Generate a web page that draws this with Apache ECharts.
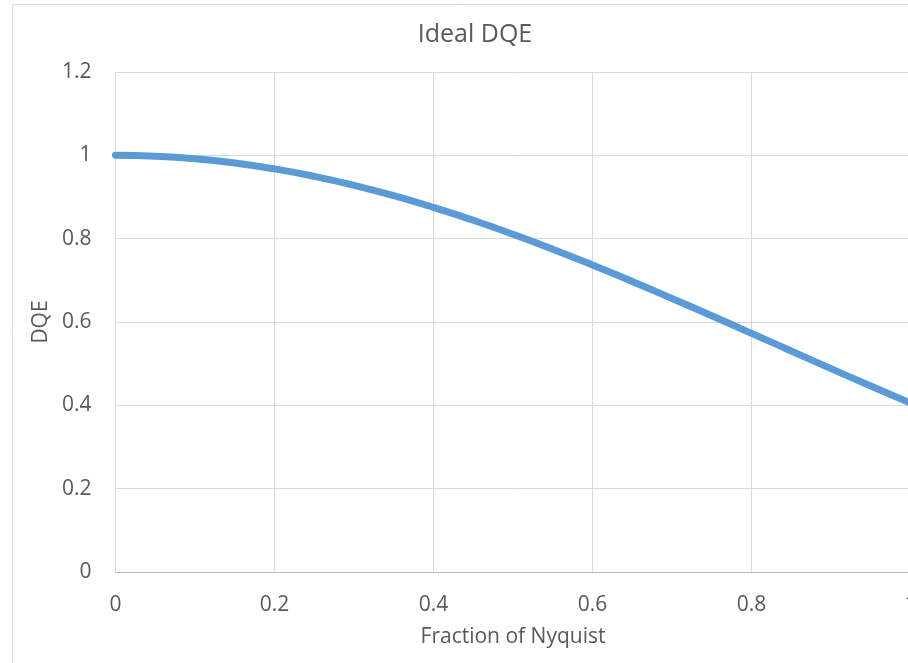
<!DOCTYPE html>
<html>
<head>
<meta charset="utf-8">
<script src="https://cdn.jsdelivr.net/npm/echarts@6/dist/echarts.min.js"></script>
<style>
  html, body { margin: 0; padding: 0; background: #fff; }
  #chart { width: 908px; height: 663px; }
</style>
</head>
<body>
<div id="chart"></div>
<script>
// Spatial frequency as a fraction of Nyquist
const fraction = [0, 0.05, 0.1, 0.15, 0.2, 0.25, 0.3, 0.35, 0.4, 0.45, 0.5,
                  0.55, 0.6, 0.65, 0.7, 0.75, 0.8, 0.85, 0.9, 0.95, 1.0];
// Ideal detective quantum efficiency at each frequency
const dqe = [1.0, 0.9979, 0.9918, 0.9816, 0.9675, 0.9496, 0.9281, 0.9032, 0.8751, 0.8442, 0.8106,
             0.7747, 0.7368, 0.6974, 0.6566, 0.6150, 0.5728, 0.5304, 0.4881, 0.4463, 0.4053];
const xTicks = [0, 0.2, 0.4, 0.6, 0.8, 1];
const yTicks = [0, 0.2, 0.4, 0.6, 0.8, 1, 1.2];

const font = '"Open Sans", "Noto Sans", sans-serif';
const chart = echarts.init(document.getElementById('chart'), null, { renderer: 'canvas' });

chart.setOption({
  animation: false,
  backgroundColor: '#ffffff',
  title: {
    text: 'Ideal DQE',
    left: 470, top: 17, textAlign: 'center',
    textStyle: { fontFamily: font, fontSize: 25, fontWeight: 'normal', color: '#595959' }
  },
  graphic: [{
    type: 'rect',
    shape: { x: 12.5, y: 4.5, width: 1000, height: 800 },
    style: { fill: 'none', stroke: '#d9d9d9', lineWidth: 1 },
    silent: true
  }],
  grid: { left: 115.5, right: -2.5, top: 72, bottom: 91, outerBoundsMode: 'none', containLabel: false },
  xAxis: {
    type: 'value',
    min: xTicks[0], max: xTicks[xTicks.length - 1], interval: 0.2,
    name: 'Fraction of Nyquist',
    nameLocation: 'middle', nameGap: 55,
    nameTextStyle: { fontFamily: font, fontSize: 21, color: '#595959' },
    axisLine: { show: true, lineStyle: { color: '#bfbfbf', width: 1 } },
    axisTick: { show: false },
    splitLine: { show: true, lineStyle: { color: '#d9d9d9', width: 1 } },
    axisLabel: { fontFamily: font, fontSize: 21, color: '#595959', margin: 23,
                 formatter: v => String(+v.toFixed(1)) }
  },
  yAxis: {
    type: 'value',
    min: yTicks[0], max: yTicks[yTicks.length - 1], interval: 0.2,
    name: 'DQE',
    nameLocation: 'middle', nameGap: 58, nameRotate: 90,
    nameTextStyle: { fontFamily: font, fontSize: 21, color: '#595959' },
    axisLine: { show: false },
    axisTick: { show: false },
    splitLine: { show: true, lineStyle: { color: '#d9d9d9', width: 1 } },
    axisLabel: { fontFamily: font, fontSize: 21, color: '#595959', margin: 24,
                 formatter: v => String(+v.toFixed(1)) }
  },
  series: [{
    type: 'line',
    data: fraction.map((f, i) => [f, dqe[i]]),
    smooth: true,
    showSymbol: false,
    clip: false,
    lineStyle: { color: '#5b9bd5', width: 7, cap: 'round', join: 'round' }
  }]
});
</script>
</body>
</html>
